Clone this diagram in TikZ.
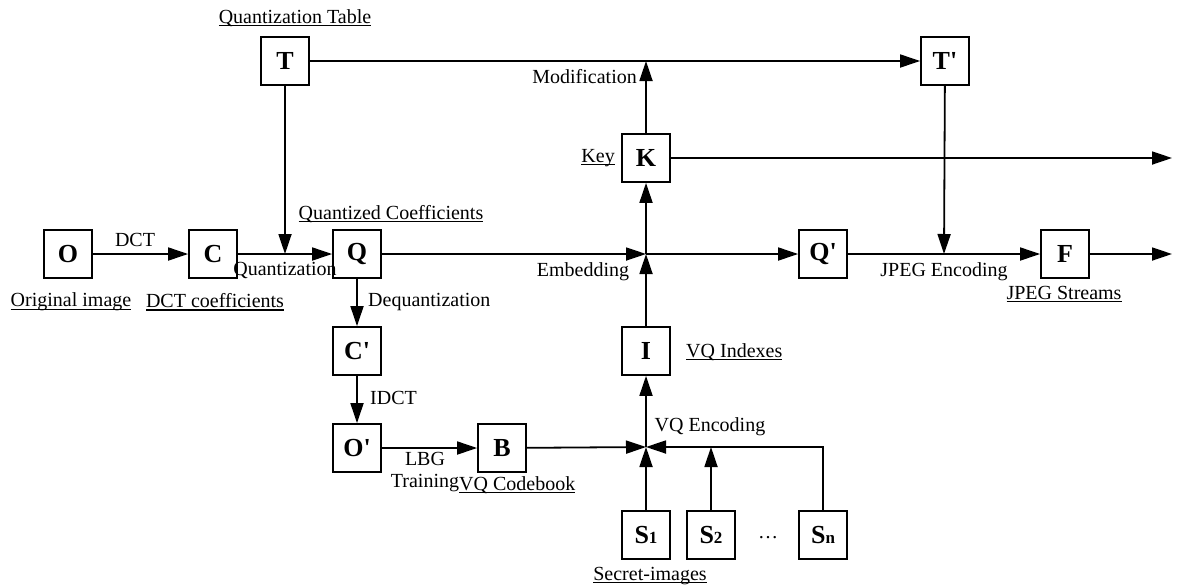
\documentclass[tikz,border=0pt]{standalone}
\usepackage{fontspec}
\setmainfont{Liberation Serif}
\usetikzlibrary{arrows.meta}
\newcommand\ulx[1]{\setbox0\hbox{#1}\rlap{\rule[-3pt]{\wd0}{1.1pt}}\box0}
\newcommand\sbx[1]{{\fontsize{17}{17}\selectfont #1}}
\begin{document}
\begin{tikzpicture}[x=1pt,y=-1pt,
  blk/.style={draw, line width=1.8pt, minimum size=48pt, inner sep=0pt, font=\fontsize{26}{26}\selectfont\bfseries},
  lbl/.style={font=\fontsize{20}{22}\selectfont, inner sep=0pt},
  con/.style={line width=1.8pt, -{Triangle[length=20pt,width=13pt]}}]
\useasboundingbox (0,0) rectangle (1177,587);
% blocks
\node[blk] (O) at (68,254) {O};
\node[blk] (C) at (213,254) {C};
\node[blk] (Q) at (357,254) {Q};
\node[blk] (T) at (285,61) {T};
\node[blk] (Tp) at (945,61) {T\textquotesingle};
\node[blk] (K) at (646,158) {K};
\node[blk] (Qp) at (823,254) {Q\textquotesingle};
\node[blk] (F) at (1065,254) {F};
\node[blk] (Cp) at (357,351) {C\textquotesingle};
\node[blk] (Op) at (357,448) {O\textquotesingle};
\node[blk] (B) at (502,448) {B};
\node[blk] (I) at (646,351) {I};
\node[blk] (S1) at (646,535) {S\sbx{1}};
\node[blk] (S2) at (711,535) {S\sbx{2}};
\node[blk] (Sn) at (823,535) {S\sbx{n}};
% junctions
\coordinate (jT) at (285,254);
\coordinate (jE) at (646,254);
\coordinate (jM) at (646,61);
\coordinate (jJ) at (944,254);
\coordinate (jV) at (646,447);
\coordinate (jS2) at (711,447);
\coordinate (eK) at (1172,158);
\coordinate (eF) at (1172,254);
% connectors
\draw[con] (O) -- (C);
\draw[con] (C) -- (Q);
\draw[con] (T) -- (jT);
\draw[con] (T) -- (Tp);
\draw[con] (K) -- (jM);
\draw[con] (Q) -- (jE);
\draw[con] (jE) -- (Qp);
\draw[con] (I) -- (jE);
\draw[con] (jE) -- (K);
\draw[con] (K) -- (eK);
\draw[con] (Qp) -- (F);
\draw[con] (Tp) -- (jJ);
\draw[con] (F) -- (eF);
\draw[con] (Q) -- (Cp);
\draw[con] (Cp) -- (Op);
\draw[con] (Op) -- (B);
\draw[con] (B) -- (jV);
\draw[con] (S1) -- (jV);
\draw[con] (S2) -- (jS2);
\draw[con] (Sn) |- (jV);
\draw[con] (jV) -- (I);
% labels
\node[lbl] at (295,18) {\ulx{Quantization Table}};
\node[lbl] at (135,240) {DCT};
\node[lbl] at (285,270) {Quantization};
\node[lbl] at (71,302) {\ulx{Original image}};
\node[lbl] at (215,302) {\ulx{DCT coefficients}};
\node[lbl] at (391,214) {\ulx{Quantized Coefficients}};
\node[lbl] at (583,272) {Embedding};
\node[lbl, anchor=west] at (368,302) {Dequantization};
\node[lbl, anchor=west] at (370,398) {IDCT};
\node[lbl] at (425,459) {LBG};
\node[lbl] at (425,483) {Training};
\node[lbl, anchor=west] at (459,485) {\ulx{VQ Codebook}};
\node[lbl, anchor=west] at (686,352) {\ulx{VQ Indexes}};
\node[lbl] at (710,427) {VQ Encoding};
\node[lbl] at (768,538) {…};
\node[lbl] at (650,576) {\ulx{Secret-images}};
\node[lbl, anchor=east] at (615,158) {\ulx{Key}};
\node[lbl, anchor=east] at (637,77) {Modification};
\node[lbl] at (944,272) {JPEG Encoding};
\node[lbl] at (1064,294) {\ulx{JPEG Streams}};
\end{tikzpicture}
\end{document}
